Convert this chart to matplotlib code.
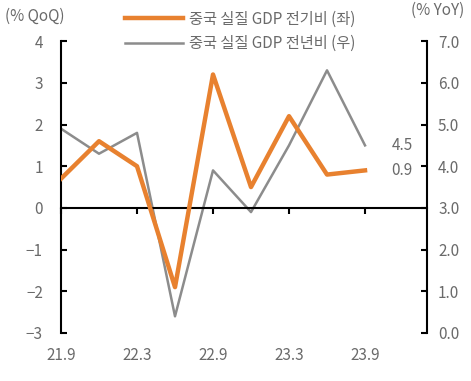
import matplotlib.pyplot as plt
import numpy as np

plt.rcParams['font.family'] = ['Noto Sans CJK KR', 'DejaVu Sans']

# 분기 (21.9 ~ 23.9)
quarters = ['21.9', '21.12', '22.3', '22.6', '22.9', '22.12', '23.3', '23.6', '23.9']
xtick_labels = ['21.9', '22.3', '22.9', '23.3', '23.9']
qoq = [0.7, 1.6, 1.0, -1.9, 3.2, 0.5, 2.2, 0.8, 0.9]
yoy = [4.9, 4.3, 4.8, 0.4, 3.9, 2.9, 4.5, 6.3, 4.5]

orange = '#E8812F'
gray = '#8C8C8C'
txt = '#6A6A6A'
fs = 11

x = np.arange(len(quarters))

fig = plt.figure(figsize=(4.71, 3.81), dpi=100)
ax = fig.add_axes([0.1295, 0.126, 0.777, 0.766])
ax2 = ax.twinx()

l1, = ax.plot(x, qoq, color=orange, lw=3.2, label='중국 실질 GDP 전기비 (좌)', zorder=3)
l2, = ax2.plot(x, yoy, color=gray, lw=1.8, label='중국 실질 GDP 전년비 (우)', zorder=2)
ax.set_zorder(ax2.get_zorder() + 1)
ax.patch.set_visible(False)

ax.set_xlim(0, 9.63)
ax.set_ylim(-3, 4)
ax2.set_ylim(0, 7)
ax.set_yticks(range(-3, 5))
ax2.set_yticks(np.arange(0, 7.1, 1))
ax2.set_yticklabels([f'{v:.1f}' for v in np.arange(0, 7.1, 1)])

for a in (ax, ax2):
    a.spines['top'].set_visible(False)
    a.spines['bottom'].set_visible(False)
    for s in ('left', 'right'):
        a.spines[s].set_linewidth(1.5)
ax.spines['right'].set_visible(False)
ax2.spines['left'].set_visible(False)

# 0 기준선과 눈금
ax.spines['bottom'].set_visible(True)
ax.spines['bottom'].set_position(('data', 0))
ax.spines['bottom'].set_linewidth(1.5)
ax.set_xticks(x[::2])
ax.tick_params(axis='x', direction='out', length=4, width=1.5, labelbottom=False)

sec = ax.secondary_xaxis('bottom')
sec.set_xticks(x[::2])
sec.set_xticklabels(xtick_labels)
sec.spines['bottom'].set_visible(False)
sec.tick_params(length=0, pad=10, labelsize=fs, labelcolor=txt)

ax.tick_params(axis='y', direction='in', length=4, width=1.5, labelsize=fs,
               labelcolor=txt, pad=13)
ax2.tick_params(axis='y', direction='in', length=4, width=1.5, labelsize=fs,
                labelcolor=txt, pad=8)

ax.annotate('4.5', xy=(x[-1], yoy[-1]), xycoords=ax2.transData,
            xytext=(19, 0), textcoords='offset points', va='center',
            fontsize=fs, color=txt)
ax.annotate('0.9', xy=(x[-1], qoq[-1]), xytext=(19, 0),
            textcoords='offset points', va='center', fontsize=fs, color=txt)

fig.text(0.01, 0.958, '(% QoQ)', fontsize=fs, color=txt, va='center')
fig.text(0.985, 0.972, '(% YoY)', fontsize=fs, color=txt, va='center', ha='right')

fig.legend(handles=[l1, l2], loc='center', bbox_to_anchor=(0.51, 0.918),
           frameon=False, fontsize=fs, labelcolor=txt, handlelength=3.8,
           handletextpad=0.4, labelspacing=0.5)

fig.savefig('out.png', dpi=100)
